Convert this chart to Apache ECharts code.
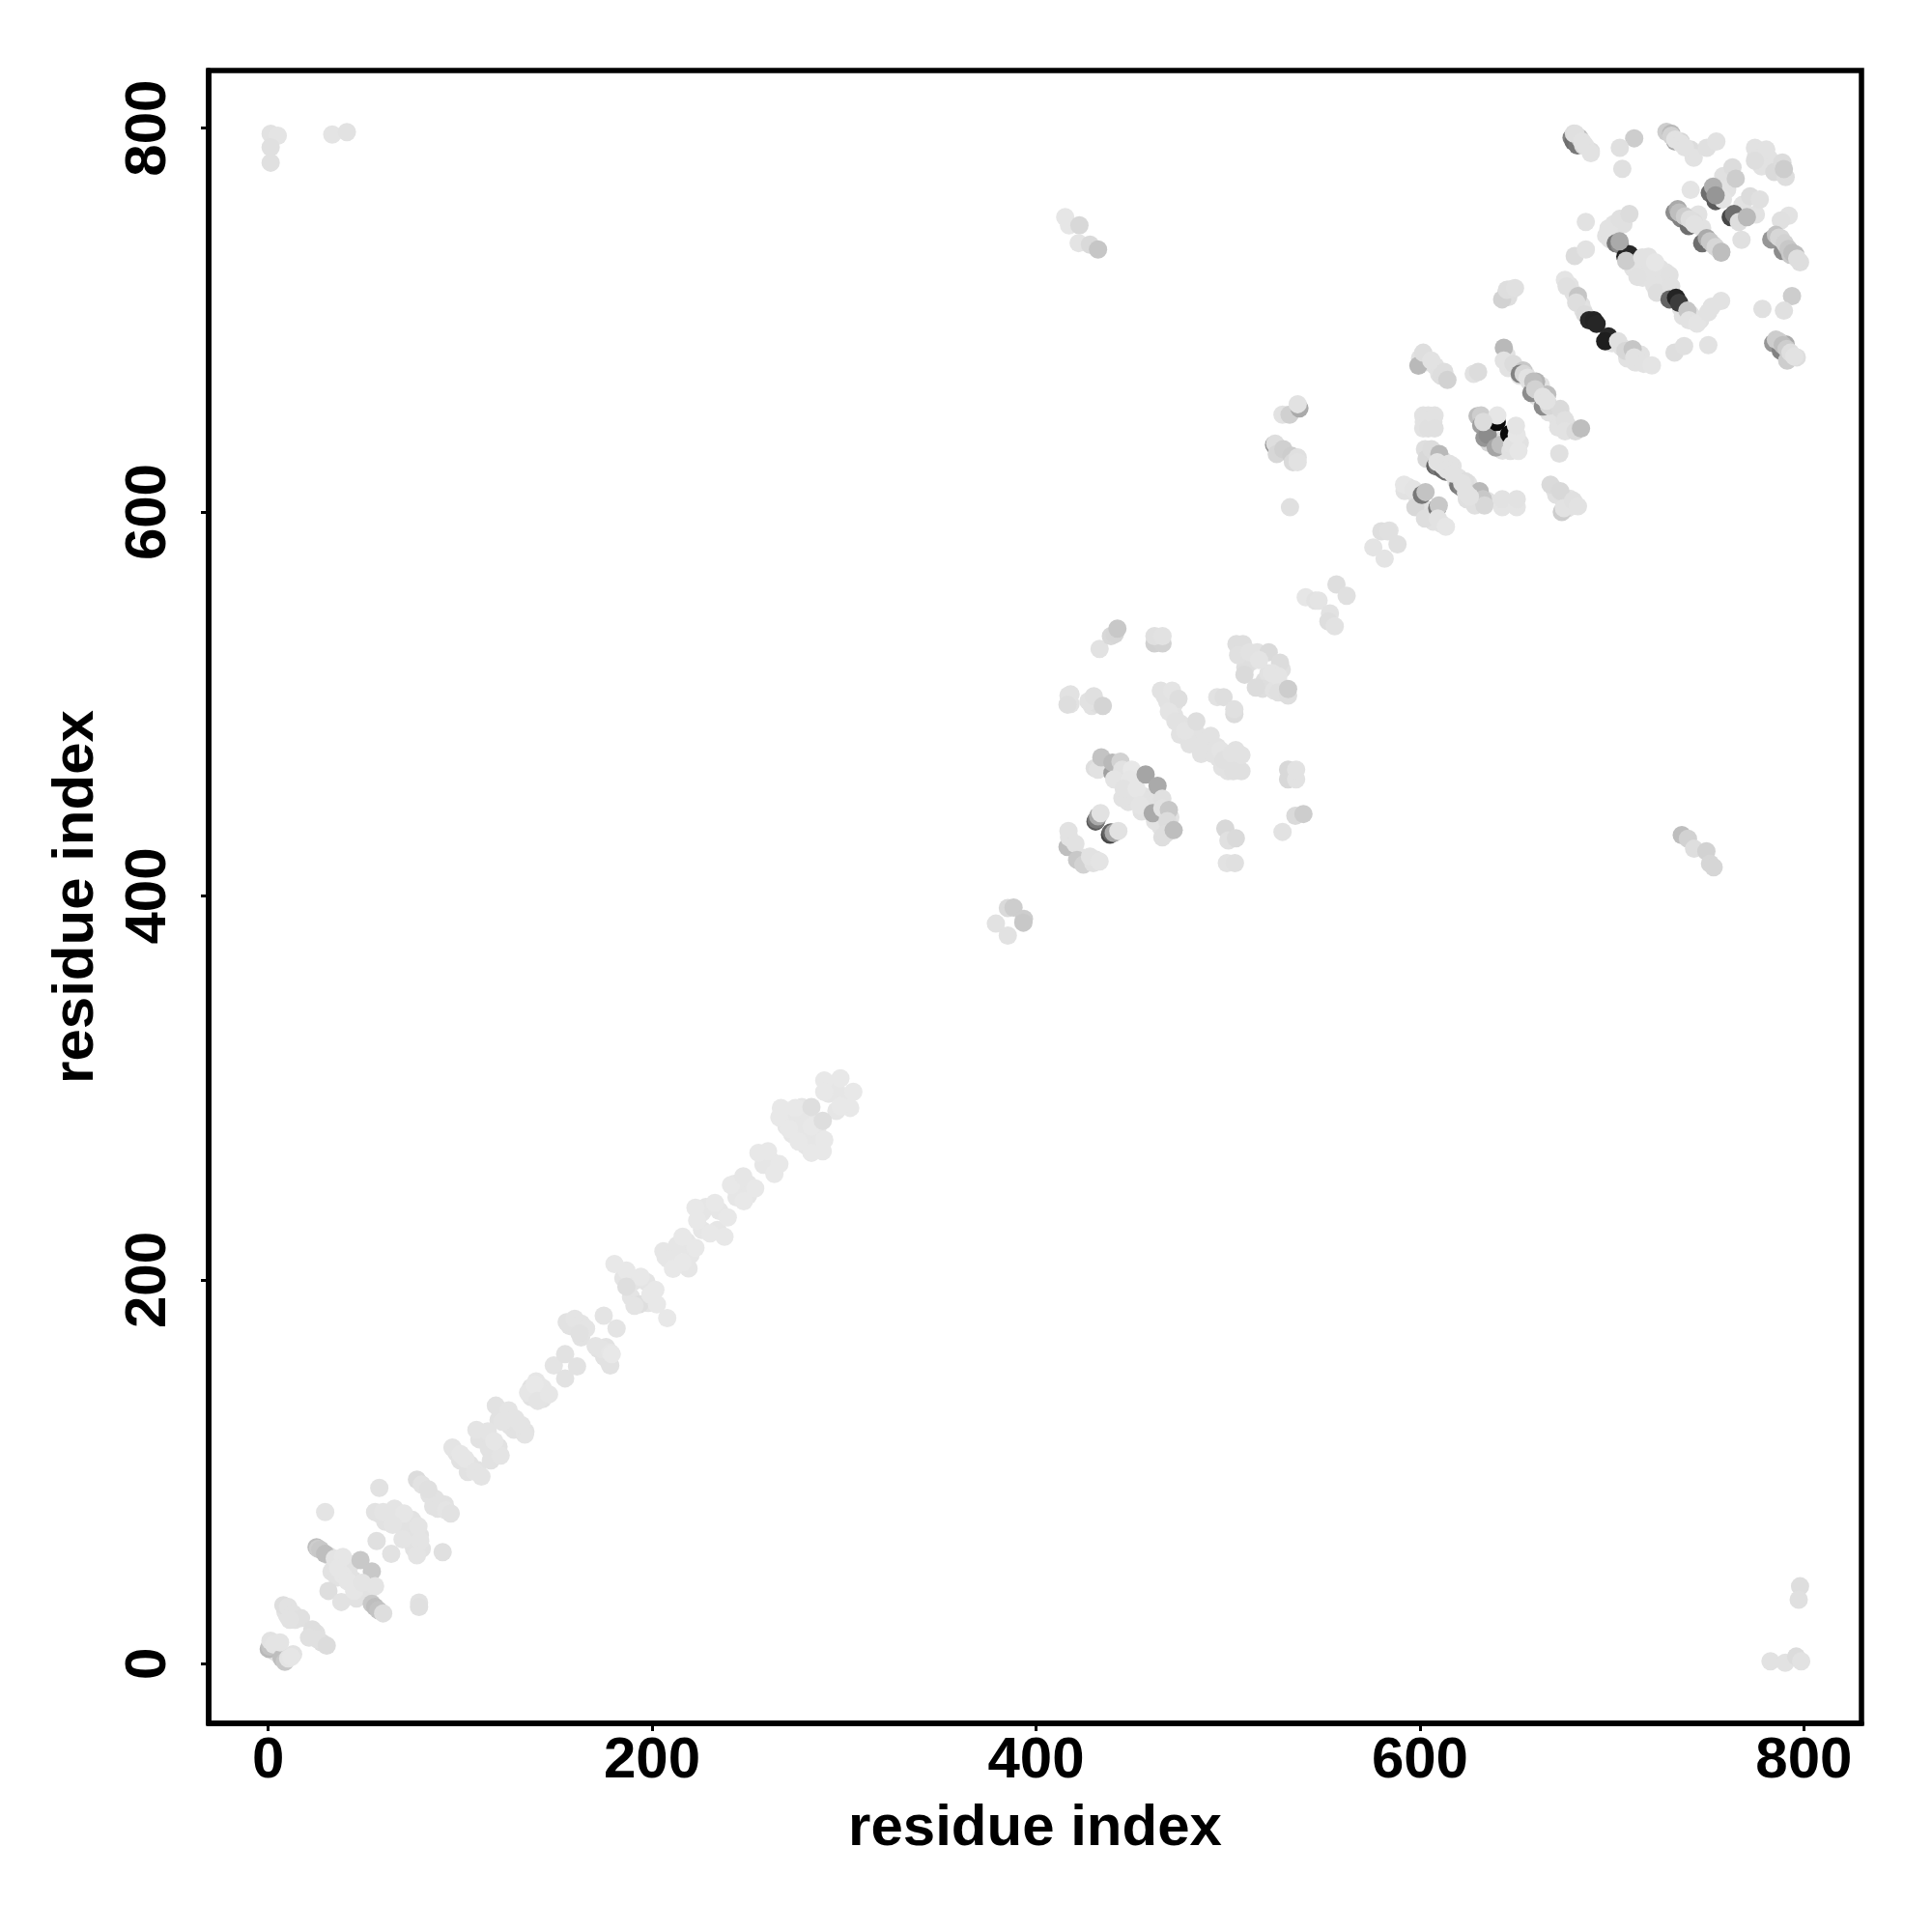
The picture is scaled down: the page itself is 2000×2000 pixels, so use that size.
<!DOCTYPE html>
<html><head><meta charset="utf-8">
<script src="https://cdn.jsdelivr.net/npm/echarts@6/dist/echarts.min.js"></script>
<style>html,body{margin:0;padding:0;background:#fff}#c{width:2000px;height:2000px}</style></head>
<body><div id="c"></div>
<script>
// [residue x, residue y, grey level]
const corners=[[1.3,797,226],[5,796,228],[1.3,790,224],[1.3,782,224],[33.4,796.7,228],[41,797.9,226],[782.6,1.3,226],[790.3,.6,226],[796,3.8,220],[798.6,1.3,226],[798,40.4,222],[797.3,33.4,224]];
const fillLow=[[2,11,226],[5,10,226],[4,6,226],[9,4,226],[13,5,226],[9,27,226],[12,25,226],[14,23,226],[10,25,226],[25,16,224],[28,11,222],
[32,56,226],[35,52,226],[37,54,226],[33,48,226],[40,50,226],[36,45,226],[42,47,226],[43,52,226],[44,44,226],[47,40,226],[50,38,226],[46,34,226],[52,35,226],
[58,78,226],[61,74,226],[63,77,226],[68,75,226],[72,70,226],[75,75,226],[74,64,226],[76,60,226],[80,60,226],[84,88,226],[87,86,226],[79,67,226],[92,83,226],[86,82,226],
[98,110,226],[100,106,226],[105,104,226],[104,100,226],[109,101,226],[110,117,226],[112,118,226],[115,112,226],[118,110,226],[120,113,226],[116,106,226],[121,131,226],[120,127,226],[124,129,226],[126,124,226],[128,122,226],[130,125,226],[134,121,226],
[137,144,226],[137,139,226],[141,141,226],[144,140,226],[143,138,226],[141,145,226],
[157,176,226],[160,175,226],[158,177,226],[164,174,226],[163,170,226],[172,164,226],[175,160,226],[177,158,226],[176,165,226],
[190,199,228],[185,201,228],[188,200,228],[198,188,228],[189,191,228],[197,199,228],
[207,212,230],[210,214,230],[212,208,230],[218,220,230],[220,213,230],[219,206,230],[213,218,230],[226,235,230],[228,238,230],[235,236,230],[226,226,230],[234,226,230],
[243,250,230],[245,246,230],[250,250,230],[250,244,230],[244,243,230],[258,264,230],[262,262,230],[258,260,230],
[268,286,230],[270,284,230],[272,286,230],[274,282,230],[277,285,230],[270,280,230],[273,276,230],[278,278,230],[280,270,230],[279,283,230],[285,270,230],[285,275,230],[282,274,230],[286,282,230],[286,278,230],[280,288,230],[278,290,230],
[292,302,230],[295,302,230],[292,297,230],[299,296,230],[301,293,230],[296,288,230]];
const fillMid=[[418,505,226],[418,500,226],[429,499,226],[432,500,222],[463,534,226],[463,532,222],
[467,504,226],[470,503,226],[472,500,226],[470,498,226],[472,494,226],[475,490,226],[479,488,226],[481,485,226],[475,484,226],[484,484,226],[487,481,226],[480,479,226],[486,474,226],[489,478,226],[492,474,226],[495,472,226],[499,472,226],[500,468,226],[504,470,226],[505,467,226],[500,465,226],[497,467,226],[504,476,226],[491,479,226],
[507,528,226],[510,525,226],[512,522,226],[509,519,222],[519,512,222],[521,516,226],[524,512,226],[527,510,226],[529,508,226],[528,518,224],[518,508,222],[524,507,226],
[443,462,226],[447,458,226],[449,454,226],[452,450,226],[456,452,226],[458,448,226],[448,449,226],[455,444,226],[459,450,226],[462,448,226],[463,442,226],[465,436,226],[468,434,226],[462,439,226],[445,451,226],[470,441,226],
[418,428,226],[419,426,226],[424,420,226],[426,418,226],[431,419,226]];
const fillHigh=[[600,680,226],[603,678,226],[608,676,226],[610,672,226],[611,671,222],[628,672,226],
[604,647,226],[602,647,226],[607,647,226],[604,630,226],[607,631,222],[612,627,226],[613,625,226],[617,624,226],[620,618,226],[619,616,226],[625,615,226],[627,612,226],[629,608,226],[627,606,226],[631,605,226],[635,606,226],
[592,611,226],[594,613,226],[598,609,226],[600,605,226],[604,601,226],[606,598,222],[607,595,226],[611,594,226],
[633,648,222],[634,642,215],[636,636,215],[641,637,222],[643,632,226],[645,636,226],[649,636,226],[652,636,226],
[645,682,226],[646,675,226],[650,675,226],[652,671,226],[655,672,226],[657,668,226],[659,664,226],[661,660,226],[663,666,226],[665,658,226],[667,652,226],[670,651,226],[672,648,226],[674,650,226],[677,645,226],[672,644,226],
[670,612,224],[671,609,224],[675,606,224],[677,602,226],[678,607,226],
[647,716,226],[646,712,222],[645,714,222],[678,718,226],[680,714,226],[684,708,224],[685,705,226],[700,688,226],[705,686,226],[708,682,226],[713,678,226],[715,682,226],[712,678,226],[708,680,226],
[700,744,226],[701,750,226],[697,744,226],[699,742,226],[702,748,226],[706,750,224],
[711,727,226],[714,730,226],[717,728,226],[719,733,226],[716,722,226],[720,725,226],[725,727,226],[722,718,226],[726,716,226],[727,720,226],[728,725,226],[736,706,226],[737,702,226],[741,703,226],[743,700,226],[746,700,226],[752,707,226],
[745,755,226],[747,748,226],[758,775,224],[760,768,226],[768,760,226],[775,755,226],[775,785,226],[778,780,226],[782,784,226]];
const domainA=[[.3,7.8,185],[1,9,195],[1.2,12,226],[3,10,228],[7,3,190],[8.7,1.1,200],[6.2,11.2,228],[10.4,2.8,228],[12,3.6,230],[7.9,30.5,222],[10.4,29.6,226],[12.9,26.3,226],[17.1,23.8,224],[11.2,23,226],[23,17.9,222],[21.3,13.7,224],[25.5,12.9,224],[30.5,9.5,220],
[25.2,60.7,190],[26,60,205],[27.2,59.5,200],[29.7,57.3,190],[29.7,79.1,228],[34.7,54.8,228],[38.9,55.7,230],[36.4,49.8,230],[38.9,46.4,230],[48.1,54,200],[54,48.1,200],[31.4,38,222],[38.1,32.2,226],[41.4,43,230],[44.8,38,230],[49,42.2,228],[55.7,40.5,228],[54,31.3,200],[55.7,29.6,190],[57.4,28,195],[59.9,26.3,222],
[57.9,91.7,226],[55.7,79.1,226],[59.9,79.1,228],[65.8,80.8,228],[70.8,78.3,230],[64.9,72.4,228],[56.5,64,224],[70,64.9,228],[64.1,57.3,226],[78.3,71.6,228],[79.2,64,228],[77.5,56.5,228],[90.9,58.2,224],[77.5,95.9,220],[80,93.4,226],[83.4,90.9,224],[90.1,83.3,226],[88.4,80.8,226],[92.6,80,228],[95.1,78.3,226],[78.6,31.9,226],[78.6,29.6,224]];
const domainB=[[96,112.7,228],[100.2,109.3,230],[102.7,106.8,230],[107.7,100.1,228],[111.1,97.6,228],[108.5,121.9,228],[114.4,121.1,228],[121.1,108.5,228],[117.8,116,230],[118.6,134.5,226],[125.3,132,228],[122,126.1,228],[128.7,127.8,228],[133.7,119.4,228],[132,124.4,228],
[135.4,141.2,230],[139.6,147.1,230],[143,143.7,230],[138.8,145.4,232],[140.4,137,228],[146.3,140.4,230],[148.8,155.4,228],[154.7,161.3,226],[160.9,154.9,226],[154.7,148.7,226],
[155.5,178,226],[159.7,179.7,228],[163.1,177.2,228],[165.6,174.7,228],[162.2,172.2,225],[174.8,181.4,228],[181.5,174.7,228],[170.6,165.5,228],[174,163.8,228],[178.2,162.1,230],[178.2,155.4,226],[179,161.3,232],
[180.4,208.3,232],[186.6,204.9,232],[194.1,201.6,232],[186.6,196.5,222],[193.3,187.3,222],[190.8,186.5,228],[199.1,192.3,232],[201.7,194.8,232],[202.5,187.3,232],[207.9,180.1,232]];
const domainC=[[205.9,215,230],[208.4,210.8,230],[210.9,205.7,232],[215.9,222.5,232],[222.6,216.7,232],[215.9,209.1,232],[222.6,237.6,232],[223.5,230.9,232],[232.7,240.1,232],[239.4,232.6,232],[230.2,224.2,232],[237.7,222.5,232],
[241.1,249.4,232],[247.5,254,230],[253.7,247.7,232],[247.8,241,232],[255.4,266.2,232],[260.4,267,232],[266.3,260.3,232],[263.7,255.2,232],
[267.1,289.6,232],[274.6,289.6,232],[266.3,284.6,232],[271.3,278.7,232],[276.3,272,232],[283,266.2,232],[288.9,267,232],[289.7,272.9,232],[283,280,232],[288.9,282.9,222],[283,290.1,222],
[289.7,303.9,232],[298.1,305,232],[304.8,298,232],[303.2,289.6,232],[298.1,290.5,232],[289.7,298,232]];
const domainD=[[379.1,385.6,226],[385.3,379.4,226],[385.3,393.7,218],[388.3,394,205],[393.7,388.1,205],[393.4,386.1,200],
[416.9,504.4,226],[416.4,499.7,222],[427.3,501.4,226],[430.1,504,224],[434.8,499,212],[433.1,528.7,226],[439,535.4,216],[441,536.3,214],[442.4,539.3,200],
[461.7,531.6,208],[465.9,531.6,210],[461.7,535.4,224],[465.9,535.4,226],
[468.4,501,226],[465,506.9,226],[470.9,506.9,228],[474.2,502.7,222],[469.2,496,228],[472.6,491,226],[477.6,486,228],[483.5,491,222],[485.1,477.6,226],[491,483.4,226],[494.4,477.6,226],[496.1,475.9,228],[497.7,470.8,224],[501.9,474.2,226],[502.8,465,224],[507,465,224],[507,473.4,226],
[494.4,503.6,226],[497.7,503.6,222],[503.3,494.7,220],[503.3,497.2,224],
[504.4,531.2,222],[507.8,531.2,222],[505.3,525.4,224],[511.2,527,226],[515.3,527,226],[521.2,527,218],[527.1,521.5,220],[508.6,515.3,218],[514.5,508.6,220],[516.2,522.9,228],[522.9,516.1,228],[526.2,514.5,228],[526.2,506.1,224],[531.3,504.4,222],[531.3,507.8,205],
[531.3,460.8,216],[531.3,465.8,216],[535.5,460.8,226],[535.5,465.8,226],[528.4,433.4,226],[535.1,441.8,218],[539.3,442.7,205],
[498.6,435.1,216],[500.2,428.9,224],[504.1,430.1,218],[499.4,417.1,226],[503.6,417.1,224],
[430.6,466.6,222],[432.3,465.8,226],[434,472.2,195],[439.8,464.1,160],[439.8,469.5,185],[444,470,210],[444.9,465.8,226],[440.7,460.8,228],[449.9,465.8,232],[449,460.8,230],[445.7,455.8,226],[452.4,455.8,230],[454.1,447.3,228],[457.1,463.3,165],[463.3,457.4,170],[460.8,443.2,170],[465.8,450.7,224],[465.8,445.7,226],[469.2,444.8,200],[468.4,439,220],[465.8,430.6,222],[467.5,432.3,222],[471.7,434.3,190],
[431,438.8,90],[431.5,439.8,120],[432.3,441.5,170],[433.6,443.2,226],[438.5,432,70],[439,433.1,100],[440.5,432.8,170],[442.9,433.9,226],
[416.9,433.9,226],[416.4,425.5,190],[417.2,430.6,226],[420.5,427.2,226],[421.4,418.8,200],[424.7,416.3,210],[429.8,417.1,224],[428.1,420.5,226],[433.1,418,228]];
const domainE=[[415.2,753.6,230],[417.2,749.4,230],[422.6,749.4,216],[422.2,740.1,228],[428.1,739.3,218],[432.3,736.8,198],
[528.4,650.7,226],[532.1,650.7,208],[537.2,654,170],[536.3,656.2,226],
[524,635,150],[524.6,635.6,222],[525.4,630.2,215],[528.8,632.7,208],[533,629.4,205],[533.8,626,218],[536.3,628.5,224],[536.3,626,226],[532.3,602.5,224],
[736.4,431.7,190],[739.6,429.8,210],[742.8,424.6,222],[749.2,423.3,210],[751.1,416.9,214],[753,415,214]];
const domainF=[[540.5,555.6,230],[545.5,553.9,226],[547.2,553.9,228],[553.1,547.2,226],[552.3,543,222],[555.6,540.5,226],[556.5,562.3,222],[561.8,556.4,224],
[579.9,590,222],[584.1,590.3,226],[575.7,581.6,228],[581.6,575.7,228],[588.3,583.2,224],[583.3,590,224],
[591.7,614.3,230],[596.7,611.8,228],[597.6,602.5,216],[602.6,596.6,222],[601,609,120],[602.9,610.4,195],[609,602,120],[609.8,603.4,200],[609.3,596.6,226],[613.5,592.4,230],
[599.2,676.3,185],[601.7,683,222],[605.9,678.9,226],[612.7,673,222],[614.3,668.8,210],[630.3,673,220],
[601.7,650.3,226],[601.7,643.6,226],[604.3,650.3,226],[604.3,643.6,224],[607.6,650.3,226],[607.6,643.6,224],
[602.6,632.7,222],[603.4,627.7,216],[606,632.7,220],[608,624,100],[609.3,623.5,120],[610.1,630.2,185],[612,622,100],[613.5,621,110],[615.2,625.2,226],[620,614,120],[621.9,612.6,130],[623.6,616,222],[624.4,606.7,224],[628.6,603.4,224],[631.1,610.9,185],[632.8,606.7,200],[633.6,603.4,216],
[642.9,602.5,228],[642.9,606.7,226],[650.4,602.5,228],[650.4,606.7,226],
[630,650,190],[631.9,650.3,205],[631.9,645.3,160],[633.6,638.6,150],[635.3,640.3,140],[639.5,633.6,165],[642,635,190],[640,647,10],[646.5,640.5,10],[640.3,650.3,230],[647.1,631.9,225],[648,635,226],[650.4,640.3,230],[650,645,228],[651.3,631.9,230],
[643.7,685.6,185],[643.7,678.9,226],[648.7,677.2,220],[653.8,673.8,200],[652,672,130],[660.5,668,180],[658,662,140],[666.3,661.2,190],[664,655,140],[667.2,655.4,215],[673.1,653.7,218],[675.6,647.8,224],[675.6,642,226],[681,642,220],[683.9,643.6,190],
[672.6,630.5,224],[668,614.3,218],[673.1,610.9,216],[673.9,600,205],[675,602,226],[679.8,605.9,224],[682.3,603,226]];
const domainG=[[642.8,710.8,210],[645.3,715.8,222],[649.5,716.7,224],
[675.5,720.9,228],[676.4,717.5,224],[682.3,712.5,198],[681.4,709.1,222],[686,703,220],[688.1,699.9,40],[690.6,699.9,36],[692,698,38],[698.2,691.5,40],[696.5,689,30],[703.2,689,224],[707,684,215],[710.8,684.8,198],[711.6,680.6,226],[716.6,677.2,226],[720.8,676.4,228],
[732.6,683.1,222],[737.6,686.5,224],[750.2,687,226],[680.6,733.4,220],[686.4,736.8,226],[686.4,751.1,226],
[698.2,747.7,226],[704.1,752.7,224],[709.1,755.3,220],[702,740,120],[704.1,739.3,140],[707,733,30],[709.1,734.3,40],[707.4,730.9,205],[713.3,722.5,225],[715.8,732.6,226],[722.5,730.1,230],[723.4,714.2,222],[730,723.4,225],[730.9,717.5,225],[730,710.8,100],[733.4,711.6,36],[735,709,60],[739.3,704.9,198],[740.1,699.9,226],[744.3,698.2,228],[750.2,704.1,226],[756.9,710,226]];
const domainH=[[732.6,756.1,140],[734.3,757.8,170],[736,753,130],[737.6,754.4,215],[740,749,110],[742.7,751.1,220],[747,740,110],[749.4,742.7,170],[752.7,739.3,215],[756.9,735.1,190],
[751,766.2,110],[752.7,769.5,175],[754,762,90],[757.8,762.8,228],[761.9,753.6,70],[763.6,755.3,110],[766.1,751.1,222],[770.3,753.6,185],
[741,767.8,228],[762.8,779.6,220],[764.5,773.7,205],[772,764.5,220],[777,762.8,224],[767.5,741.8,224],
[792.1,754.4,226],[788,751.9,224],[783,742,150],[785.4,744.4,195],[788,742.7,215],[789,736,140],[791.3,737.6,175],[793,734,200],[795.5,734.3,190],[798,730.1,222],
[793.8,712.5,205],[789.6,704.9,224],[778.4,705.8,224],
[784,688,150],[785.4,689.8,205],[788,684,130],[790.5,687.3,170],[791.3,678.9,205],[796.3,680.6,222],
[679,795,130],[680,793,110],[682,791,120],[680.2,797.2,222],[683,795,190],[685,791,215],[689,788,222],
[711.6,794.7,205],[704.1,789.7,224],[705.4,778.8,224],
[728.4,798,205],[730.9,797.2,185],[733,793,170],[735.9,793,215],[741,788.8,220],[742.6,784.6,226],[749.4,789.7,224],[754.4,793,226],
[774.5,789.7,226],[780.4,788.8,226],[774.5,783,222],[784.6,777.1,218],[790.5,774.5,222],[788.8,782.1,220],[789.6,778.7,205]];
const covers=[[681,797,224],[684.5,793,226],[686,791,226],[689,787,226],
[731,796,210],[733,794,226],[736,792,226],[738,790,226],
[735,756,190],[738,754,205],[740.5,752.5,222],[743,750,226],[751,741,200],[754,738,215],[757,735.5,190],
[754,765,150],
[787,743,215],[790,740,210],[792,737,200],[794,735,190],[796.5,732,222],[787,689,205],[789,687,190],[791,685,205],[793,683,222],[795,681,226],
[704,741,170],
[609,626,226],[612,624,226],[614,622,226],[617,620,226],[622,615,226],[624,610,226],[626,608,226],
[654,672,215],[656,670,226],[659,668,190],[660,664,210],[664,660,226],[666,658,226],
[633,647,220]];
const tickValues=[0,200,400,600,800];
const axisName='residue index';

const points=[...corners,...fillLow,...fillMid,...fillHigh,...domainA,...domainB,...domainC,...domainD,...domainE,...domainF,...domainG,...domainH,...covers];
const font='"Liberation Sans", Helvetica, Arial, sans-serif';
const mkAxis=(extra)=>Object.assign({
  type:'value',min:-31,max:830,name:axisName,nameLocation:'middle',
  nameTextStyle:{fontFamily:font,fontWeight:'bold',fontSize:60,color:'#000'},
  axisLine:{show:true,onZero:false,lineStyle:{color:'#000',width:5.5}},
  axisTick:{show:true,length:8,inside:false,lineStyle:{color:'#000',width:3},customValues:tickValues},
  splitLine:{show:false},
},extra);
const chart=echarts.init(document.getElementById('c'),null,{renderer:'canvas'});
chart.setOption({
  animation:false,backgroundColor:'#fff',
  grid:{left:216,top:73,width:1711,height:1711,show:true,borderColor:'#000',borderWidth:5.5,backgroundColor:'#fff',containLabel:false},
  xAxis:mkAxis({nameGap:79,axisLabel:{margin:9,fontFamily:font,fontWeight:'bold',fontSize:60,color:'#000',customValues:tickValues,hideOverlap:false,showMinLabel:true}}),
  yAxis:mkAxis({nameGap:107,nameRotate:90,axisLabel:{margin:32,rotate:90,fontFamily:font,fontWeight:'bold',fontSize:60,color:'#000',customValues:tickValues,hideOverlap:false,align:'center',verticalAlign:'bottom'}}),
  series:[{type:'scatter',symbol:'circle',symbolSize:19,silent:true,clip:true,itemStyle:{opacity:1},
    data:points.map(p=>({value:[p[0],p[1]],itemStyle:{color:`rgb(${p[2]},${p[2]},${p[2]})`,opacity:1}}))}]
});
</script></body></html>
